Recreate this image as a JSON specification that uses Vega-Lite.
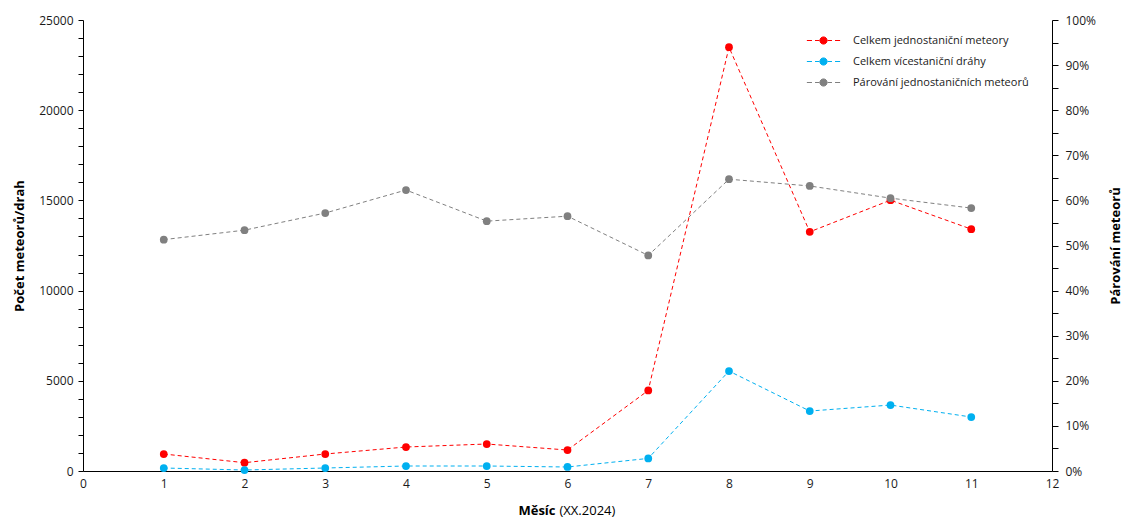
{
  "$schema": "https://vega.github.io/schema/vega-lite/v6.json",
  "autosize": "none",
  "width": 969,
  "height": 451,
  "padding": {"left": 83, "top": 20, "right": 84, "bottom": 58},
  "background": "white",
  "data": {
    "values": [
      {"mesic": 1, "serie": "Celkem jednostaniční meteory", "hodnota": 942},
      {"mesic": 2, "serie": "Celkem jednostaniční meteory", "hodnota": 460},
      {"mesic": 3, "serie": "Celkem jednostaniční meteory", "hodnota": 942},
      {"mesic": 4, "serie": "Celkem jednostaniční meteory", "hodnota": 1330},
      {"mesic": 5, "serie": "Celkem jednostaniční meteory", "hodnota": 1496},
      {"mesic": 6, "serie": "Celkem jednostaniční meteory", "hodnota": 1163},
      {"mesic": 7, "serie": "Celkem jednostaniční meteory", "hodnota": 4465},
      {"mesic": 8, "serie": "Celkem jednostaniční meteory", "hodnota": 23490},
      {"mesic": 9, "serie": "Celkem jednostaniční meteory", "hodnota": 13257},
      {"mesic": 10, "serie": "Celkem jednostaniční meteory", "hodnota": 15013},
      {"mesic": 11, "serie": "Celkem jednostaniční meteory", "hodnota": 13407},
      {"mesic": 1, "serie": "Celkem vícestaniční dráhy", "hodnota": 166},
      {"mesic": 2, "serie": "Celkem vícestaniční dráhy", "hodnota": 55},
      {"mesic": 3, "serie": "Celkem vícestaniční dráhy", "hodnota": 166},
      {"mesic": 4, "serie": "Celkem vícestaniční dráhy", "hodnota": 277},
      {"mesic": 5, "serie": "Celkem vícestaniční dráhy", "hodnota": 277},
      {"mesic": 6, "serie": "Celkem vícestaniční dráhy", "hodnota": 222},
      {"mesic": 7, "serie": "Celkem vícestaniční dráhy", "hodnota": 698},
      {"mesic": 8, "serie": "Celkem vícestaniční dráhy", "hodnota": 5540},
      {"mesic": 9, "serie": "Celkem vícestaniční dráhy", "hodnota": 3324},
      {"mesic": 10, "serie": "Celkem vícestaniční dráhy", "hodnota": 3656},
      {"mesic": 11, "serie": "Celkem vícestaniční dráhy", "hodnota": 2992},
      {"mesic": 1, "serie": "Párování jednostaničních meteorů", "podil": 0.513},
      {"mesic": 2, "serie": "Párování jednostaničních meteorů", "podil": 0.534},
      {"mesic": 3, "serie": "Párování jednostaničních meteorů", "podil": 0.572},
      {"mesic": 4, "serie": "Párování jednostaničních meteorů", "podil": 0.623},
      {"mesic": 5, "serie": "Párování jednostaničních meteorů", "podil": 0.554},
      {"mesic": 6, "serie": "Párování jednostaničních meteorů", "podil": 0.565},
      {"mesic": 7, "serie": "Párování jednostaničních meteorů", "podil": 0.478},
      {"mesic": 8, "serie": "Párování jednostaničních meteorů", "podil": 0.647},
      {"mesic": 9, "serie": "Párování jednostaničních meteorů", "podil": 0.632},
      {"mesic": 10, "serie": "Párování jednostaničních meteorů", "podil": 0.605},
      {"mesic": 11, "serie": "Párování jednostaničních meteorů", "podil": 0.583}
    ]
  },
  "encoding": {
    "color": {
      "field": "serie",
      "type": "nominal",
      "scale": {
        "domain": ["Celkem jednostaniční meteory", "Celkem vícestaniční dráhy", "Párování jednostaničních meteorů"],
        "range": ["#FF0000", "#00B0F0", "#808080"]
      },
      "legend": {
        "title": null,
        "orient": "none",
        "legendX": 732,
        "legendY": 12,
        "padding": 0,
        "symbolType": "M-2.08,0H-1.44M-1.06,0H-0.5M0.5,0H1.06M1.44,0H2.08M0.45,0A0.45,0.45 0 1,1 -0.45,0A0.45,0.45 0 1,1 0.45,0Z",
        "symbolSize": 256,
        "symbolStrokeWidth": 1,
        "symbolDash": [],
        "labelOffset": 21,
        "labelFontSize": 11,
        "labelColor": "#1a1a1a",
        "rowPadding": 6,
        "labelLimit": 300,
        "encode": {
          "symbols": {"update": {"fill": {"scale": "color", "field": "value"}, "opacity": {"value": 1}}}
        }
      }
    }
  },
  "layer": [
    {
      "transform": [{"filter": "datum.hodnota != null"}],
      "mark": {"type": "line", "strokeWidth": 1, "strokeDash": [4, 3], "point": {"filled": true, "size": 60, "opacity": 1}},
      "encoding": {
        "x": {
          "field": "mesic",
          "type": "quantitative",
          "scale": {"domain": [0, 12], "nice": false},
          "axis": {
            "values": [0, 1, 2, 3, 4, 5, 6, 7, 8, 9, 10, 11, 12],
            "ticks": false,
            "labelFlush": false,
            "labelPadding": 7,
            "title": "Měsíc",
            "titleFontWeight": "bold",
            "titleAlign": "right",
            "titleAnchor": null,
            "titleX": 472,
            "titleY": 39,
            "titleBaseline": "middle"
          }
        },
        "y": {
          "field": "hodnota",
          "type": "quantitative",
          "scale": {"domain": [0, 25000], "nice": false},
          "axis": {
            "values": [0, 1000, 2000, 3000, 4000, 5000, 6000, 7000, 8000, 9000, 10000, 11000, 12000, 13000, 14000, 15000, 16000, 17000, 18000, 19000, 20000, 21000, 22000, 23000, 24000, 25000],
            "labelExpr": "datum.value % 5000 == 0 ? format(datum.value, 'd') : ''",
            "tickSize": 5,
            "labelPadding": 5,
            "title": "Počet meteorů/drah",
            "titlePadding": 12
          }
        }
      }
    },
    {
      "transform": [{"filter": "datum.podil != null"}],
      "mark": {"type": "line", "strokeWidth": 1, "strokeDash": [4, 3], "point": {"filled": true, "size": 60, "opacity": 1}},
      "encoding": {
        "x": {
          "field": "mesic",
          "type": "quantitative",
          "axis": {
            "orient": "bottom",
            "labels": false,
            "ticks": false,
            "domain": false,
            "title": "(XX.2024)",
            "titleFontWeight": "normal",
            "titleAlign": "left",
            "titleAnchor": null,
            "titleX": 476,
            "titleY": 39,
            "titleBaseline": "middle"
          }
        },
        "y": {
          "field": "podil",
          "type": "quantitative",
          "scale": {"domain": [0, 1], "nice": false},
          "axis": {
            "orient": "right",
            "values": [0, 0.05, 0.1, 0.15, 0.2, 0.25, 0.3, 0.35, 0.4, 0.45, 0.5, 0.55, 0.6, 0.65, 0.7, 0.75, 0.8, 0.85, 0.9, 0.95, 1],
            "labelExpr": "round(datum.value * 100) % 10 == 0 ? format(datum.value, '.0%') : ''",
            "tickSize": 6,
            "labelPadding": 7,
            "title": "Párování meteorů",
            "titleAngle": 270,
            "titlePadding": 27
          }
        }
      }
    }
  ],
  "resolve": {"scale": {"y": "independent"}, "axis": {"x": "independent", "y": "independent"}},
  "config": {
    "view": {"stroke": null},
    "font": "Open Sans",
    "axis": {
      "grid": false,
      "domainColor": "#000000",
      "domainWidth": 1,
      "tickColor": "#000000",
      "labelFont": "Open Sans",
      "labelFontSize": 12,
      "labelColor": "#1a1a1a",
      "titleFont": "Open Sans",
      "titleFontSize": 13,
      "titleFontWeight": "bold",
      "titleColor": "#000000"
    },
    "legend": {"labelFont": "Open Sans"}
  }
}
